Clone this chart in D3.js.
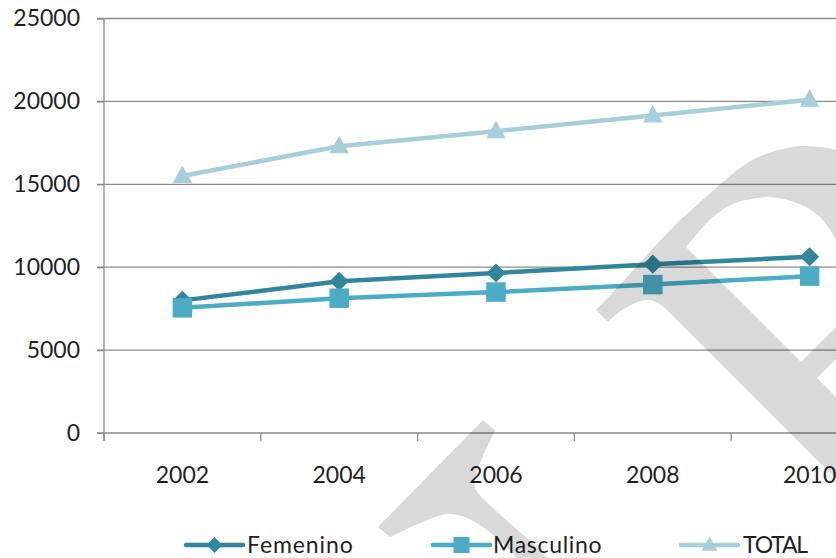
<!DOCTYPE html>
<html>
<head>
<meta charset="utf-8">
<script src="https://cdn.jsdelivr.net/npm/d3@7"></script>
<style>
  html, body { margin: 0; padding: 0; background: #fff; overflow: hidden; }
  svg { display: block; font-family: Lato, "Open Sans", sans-serif; }
</style>
</head>
<body>
<svg id="chart" width="836" height="558"></svg>
<script>
// ---- data ----
const years = ["2002", "2004", "2006", "2008", "2010"];
const femenino = [8000, 9150, 9650, 10180, 10630];
const masculino = [7550, 8130, 8500, 8950, 9460];
const total = [15500, 17300, 18200, 19150, 20100];
const yTicks = [0, 5000, 10000, 15000, 20000, 25000];
const seriesNames = ["Femenino", "Masculino", "TOTAL"];

// ---- layout ----
const W = 836, H = 558;
const plotLeft = 104, plotTop = 18.5, plotBottom = 433;
const colors = ["#31859c", "#4bacc6", "#a6cedb"];
const gridColor = "#8a8a8a";
const textColor = "#1f1f1f";

const svg = d3.select("#chart");

// scales (plot area extends beyond the right edge of the picture)
const x = d3.scaleBand().domain(years).range([plotLeft, 888]);
const y = d3.scaleLinear().domain([0, 25000]).range([plotBottom, plotTop]);
const cx = d => x(d) + x.bandwidth() / 2;

// gridlines
svg.append("g").selectAll("line").data(yTicks).join("line")
  .attr("x1", plotLeft - 7).attr("x2", W)
  .attr("y1", d => y(d)).attr("y2", d => y(d))
  .attr("stroke", gridColor).attr("stroke-width", 1.3);

// y axis
const yAxis = svg.append("g").attr("transform", `translate(${plotLeft},0)`)
  .call(d3.axisLeft(y).tickValues(yTicks).tickSize(7).tickPadding(17).tickFormat(d3.format("d")));
yAxis.select(".domain").remove();
yAxis.selectAll(".tick line").attr("stroke", gridColor).attr("stroke-width", 1.3);
yAxis.selectAll(".tick text").attr("fill", textColor).style("font-size", "23px")
  .style("font-family", "Lato, sans-serif");
svg.append("line").attr("x1", plotLeft).attr("x2", plotLeft).attr("y1", plotTop).attr("y2", plotBottom + 8)
  .attr("stroke", gridColor).attr("stroke-width", 1.3);

// x axis ticks at category boundaries
const boundaries = years.map(d => x(d)).concat([x(years[years.length - 1]) + x.bandwidth()]);
svg.append("g").selectAll("line").data(boundaries).join("line")
  .attr("x1", d => d).attr("x2", d => d).attr("y1", plotBottom).attr("y2", plotBottom + 8)
  .attr("stroke", gridColor).attr("stroke-width", 1.3);
const xAxis = svg.append("g").attr("transform", `translate(0,${plotBottom})`)
  .call(d3.axisBottom(x).tickSize(0).tickPadding(34));
xAxis.select(".domain").remove();
xAxis.selectAll(".tick text").attr("fill", textColor).style("font-size", "23px")
  .style("font-family", "Lato, sans-serif");

// marker drawing
function marker(sel, si, scale) {
  if (si === 0) {
    const side = 13.6 * scale;
    sel.append("rect").attr("x", -side / 2).attr("y", -side / 2).attr("width", side).attr("height", side)
      .attr("transform", "rotate(45)").attr("fill", colors[si]);
  } else if (si === 1) {
    const side = 19.5 * scale;
    sel.append("rect").attr("x", -side / 2).attr("y", -side / 2).attr("width", side).attr("height", side)
      .attr("fill", colors[si]);
  } else {
    const w = 19.5 * scale, h = 17.5 * scale;
    sel.append("path").attr("d", `M0,${-h * 0.6}L${w / 2},${h * 0.4}L${-w / 2},${h * 0.4}Z`)
      .attr("fill", colors[si]);
  }
}

// series
const series = [femenino, masculino, total];
const line = d3.line().x((d, i) => cx(years[i])).y(d => y(d));
series.forEach((vals, si) => {
  const g = svg.append("g");
  g.append("path").datum(vals).attr("d", line)
    .attr("fill", "none").attr("stroke", colors[si]).attr("stroke-width", 4.5)
    .attr("stroke-linejoin", "round");
  g.selectAll("g.m").data(vals).join("g").attr("class", "m")
    .attr("transform", (d, i) => `translate(${cx(years[i])},${y(d)})`)
    .each(function () { marker(d3.select(this), si, 1); });
});

// legend
const legX = [186, 433, 681];
const legSpacing = ["0.9px", "0.7px", "-1.2px"];
const legY = 545;
seriesNames.forEach((name, i) => {
  const g = svg.append("g").attr("transform", `translate(${legX[i]},${legY})`);
  g.append("line").attr("x1", 0).attr("x2", 57).attr("y1", 0).attr("y2", 0)
    .attr("stroke", colors[i]).attr("stroke-width", 4.5).attr("stroke-linecap", "round");
  const m = g.append("g").attr("transform", "translate(28.5,0)");
  marker(m, i, 0.82);
  g.append("text").attr("x", i === 0 ? 61 : (i === 1 ? 60 : 62)).attr("y", 8)
    .attr("fill", textColor).style("font-size", "23px").style("letter-spacing", legSpacing[i]).text(name);
});

// watermark (semi-transparent overlay)
const wm = svg.append("g").attr("fill", "#000").attr("fill-opacity", 0.15).attr("fill-rule", "evenodd");
wm.append("path").attr("d",
  "M596,310 C625,280 655,245 680,220 C700,203 725,178 747,163 C760,155 780,148 800,146 C815,146 826,147 836,150 " +
  "L836,479 L669,312 C660,303 652,299 645,300 C633,302 617,312 608,322 Z " +
  "M686,247 C695,236 705,224 713,217 C725,207 735,201 747,200 C755,198 763,197 770,197 C780,198 790,200 797,203 " +
  "C808,208 815,212 820,217 C827,224 832,232 836,240 L836,327 L801,362 Z " +
  "M817,378 L836,359 L836,397 Z");
wm.append("path").attr("d",
  "M378,527 L483,420 L495,430 C486,450 472,475 475,488 C480,500 515,525 547,558 L517,558 " +
  "C500,540 475,515 450,514 C440,513 415,525 390,537 Z");
</script>
</body>
</html>
